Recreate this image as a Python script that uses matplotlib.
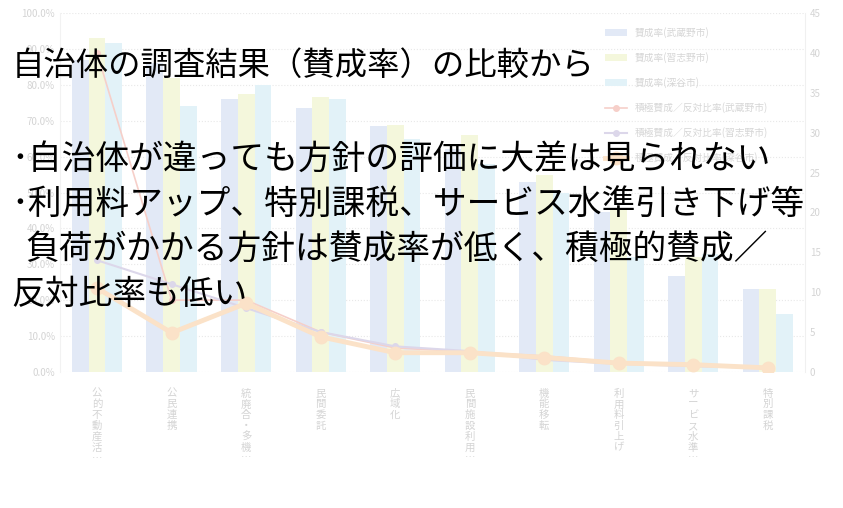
import numpy as np
import matplotlib
matplotlib.use("Agg")
import matplotlib.pyplot as plt

plt.rcParams['font.family'] = ['Noto Sans CJK JP', 'DejaVu Sans']

# categories (faded chart in the background)
categories = ["公的不動産活…", "公民連携", "統廃合・多機…", "民間委託", "広域化",
              "民間施設利用…", "機能移転", "利用料引上げ", "サービス水準…", "特別課税"]

# approval rate (%) per city
rate_musashino = [87, 86, 76, 73.5, 68.5, 62, 53, 44.6, 26.7, 23]
rate_narashino = [93, 82, 77.4, 76.6, 68.8, 66, 55, 45, 32, 23]
rate_fukaya = [91.6, 74, 80, 76, 65, 58, 50, 32, 33, 16]

# active-support / opposition ratio per city (right axis)
ratio_musashino = [40, 9, 9, 5, 3, 2.5, 2, 1.2, 0.8, 0.6]
ratio_narashino = [14, 11, 8, 5, 3.2, 2.6, 1.5, 1.0, 0.7, 0.5]
ratio_fukaya = [10.5, 4.9, 8.6, 4.4, 2.4, 2.4, 1.8, 1.1, 0.9, 0.5]

legend_labels = ["賛成率(武蔵野市)", "賛成率(習志野市)", "賛成率(深谷市)",
                 "積極賛成／反対比率(武蔵野市)", "積極賛成／反対比率(習志野市)",
                 "積極賛成／反対比率(深谷市)"]

lines_text = ["自治体の調査結果（賛成率）の比較から",
              "･自治体が違っても方針の評価に大差は見られない",
              "･利用料アップ、特別課税、サービス水準引き下げ等",
              "負荷がかかる方針は賛成率が低く、積極的賛成／",
              "反対比率も低い"]

fig = plt.figure(figsize=(8.43, 5.08), dpi=100)
ax = fig.add_axes([0.071, 0.268, 0.884, 0.706])
ax2 = ax.twinx()

faint = "#d4d4d4"
x = np.arange(len(categories))
w = 0.225
b1 = ax.bar(x - w, rate_musashino, w, color="#e2e9f6", label=legend_labels[0], zorder=2)
b2 = ax.bar(x, rate_narashino, w, color="#f4f7dc", label=legend_labels[1], zorder=2)
b3 = ax.bar(x + w, rate_fukaya, w, color="#e2f2f8", label=legend_labels[2], zorder=2)

l1, = ax2.plot(x, ratio_musashino, color="#f6cfc9", lw=1.2, marker="o", ms=4, label=legend_labels[3])
l2, = ax2.plot(x, ratio_narashino, color="#dcd7ea", lw=1.5, marker="o", ms=4, label=legend_labels[4])
l3, = ax2.plot(x, ratio_fukaya, color="#fbe2c8", lw=3.5, marker="o", ms=9, label=legend_labels[5])

ax.set_ylim(0, 100)
ax.set_yticks(np.arange(0, 101, 10))
ax.set_yticklabels([f"{v:.1f}%" for v in range(0, 101, 10)])
ax2.set_ylim(0, 45)
ax2.set_yticks(np.arange(0, 46, 5))
ax.set_xlim(-0.5, len(categories) - 0.5)
ax.set_xticks(x)
ax.set_xticklabels(["\n".join(c) for c in categories], linespacing=1.1)

ax.yaxis.grid(True, linestyle=":", color="#e8e8e8", lw=0.8, zorder=0)
ax.set_axisbelow(True)
for a in (ax, ax2):
    for s in a.spines.values():
        s.set_visible(False)
    a.tick_params(length=0, labelsize=7, colors=faint)
ax.tick_params(axis="x", labelsize=7.5, pad=12)
ax2.spines["right"].set_visible(True)
ax2.spines["right"].set_color("#f0f0f0")
ax.spines["left"].set_visible(True)
ax.spines["left"].set_color("#f2f2f2")

leg = ax2.legend([b1, b2, b3, l1, l2, l3], legend_labels, loc="upper left",
                 bbox_to_anchor=(0.72, 0.985), frameon=False, fontsize=7,
                 labelspacing=1.45, handlelength=2.2)
for t in leg.get_texts():
    t.set_color("#d6d6d6")

# overlay text
ys = [0.871, 0.686, 0.597, 0.509, 0.420]
xs = [0.014, 0.014, 0.014, 0.030, 0.014]
sizes = [23.3, 24.3, 24.3, 24.3, 24.3]
for t, xx, yy, fs in zip(lines_text, xs, ys, sizes):
    fig.text(xx, yy, t, fontsize=fs, color="black", va="center", ha="left")

fig.savefig("out.png", dpi=100)
